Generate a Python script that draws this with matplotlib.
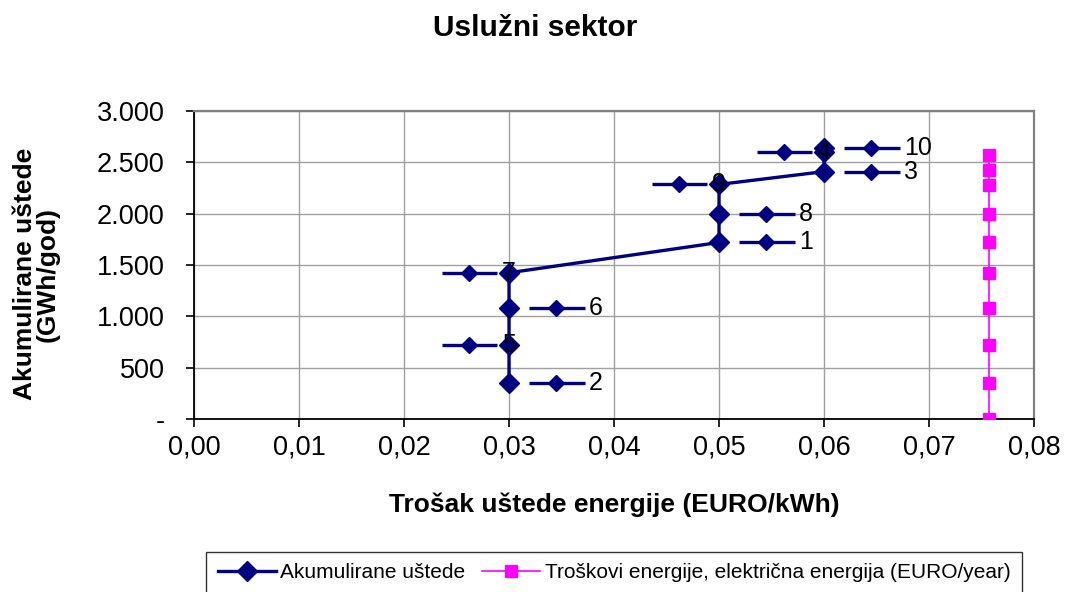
import numpy as np
import matplotlib
matplotlib.use("Agg")
import matplotlib.pyplot as plt
from matplotlib.ticker import FuncFormatter, MultipleLocator

plt.rcParams['font.family'] = ['Liberation Sans', 'DejaVu Sans']

# cumulative savings curve (sorted by cost of saved energy)
cost = [0.03, 0.03, 0.03, 0.03, 0.05, 0.05, 0.05, 0.06, 0.06, 0.06]
savings = [350, 725, 1080, 1425, 1720, 2000, 2285, 2410, 2600, 2640]
measure_ids = ['2', '5', '6', '7', '1', '8', '9', '3', '4', '10']
label_side = ['R', 'L', 'R', 'L', 'R', 'R', 'L', 'R', 'L', 'R']

# electricity price line
price_x = [0.0757] * 10
price_y = [0, 350, 720, 1080, 1425, 1720, 2000, 2280, 2425, 2570]

navy = '#000080'
magenta = '#FF00FF'

fig = plt.figure(figsize=(10.66, 5.92), dpi=100)
ax = fig.add_axes([0.182, 0.292, 0.788, 0.5205])

ax.plot(cost, savings, color=navy, lw=2.4, marker='D', ms=10.5,
        mec=navy, mfc=navy, zorder=4, label='Akumulirane uštede')
ax.plot(price_x, price_y, color=magenta, lw=1.2, marker='s', ms=9,
        mec=magenta, mfc=magenta, zorder=4,
        label='Troškovi energije, električna energija (EURO/year)')

# little pointer labels next to every measure
for x, y, name, side in zip(cost, savings, measure_ids, label_side):
    off = 0.0 if side == 'R' else -0.0083
    ax.plot([x + off + 0.0019, x + off + 0.0072], [y, y], color=navy,
            lw=2.4, zorder=5, solid_capstyle='butt')
    ax.plot([x + off + 0.0045], [y], color=navy, marker='D', ms=8, zorder=5)
    ax.text(x + off + 0.0076, y, name, fontsize=18, ha='left',
            va='center', color='black', zorder=6)

ax.set_xlim(0, 0.08)
ax.set_ylim(0, 3000)
ax.xaxis.set_major_locator(MultipleLocator(0.01))
ax.yaxis.set_major_locator(MultipleLocator(500))
ax.xaxis.set_major_formatter(FuncFormatter(lambda v, p: f'{v:.2f}'.replace('.', ',')))
ax.yaxis.set_major_formatter(FuncFormatter(
    lambda v, p: '-' if abs(v) < 1e-9 else f'{int(round(v)):,}'.replace(',', '.')))

ax.grid(True, color='#a0a0a0', lw=1.0)
ax.set_axisbelow(True)
for s in ['top', 'right']:
    ax.spines[s].set_color('#808080')
    ax.spines[s].set_linewidth(1.6)
for s in ['left', 'bottom']:
    ax.spines[s].set_color('black')
    ax.spines[s].set_linewidth(1.3)
ax.tick_params(axis='both', direction='out', length=6, width=1.2,
               labelsize=19.5, colors='black')
ax.tick_params(axis='y', pad=15)
ax.tick_params(axis='x', pad=5)

fig.text(0.502, 0.953, 'Uslužni sektor', fontsize=21.5, fontweight='bold',
         ha='center', va='center')
fig.text(0.576, 0.147, 'Trošak uštede energije (EURO/kWh)', fontsize=19,
         fontweight='bold', ha='center', va='center')
fig.text(0.034, 0.537, 'Akumulirane uštede\n(GWh/god)', fontsize=19,
         fontweight='bold', ha='center', va='center', rotation=90,
         multialignment='center', linespacing=0.95)

leg = fig.legend(loc='upper center', bbox_to_anchor=(0.576, 0.068), ncol=2,
                 fontsize=15, frameon=True, fancybox=False, edgecolor='black',
                 handlelength=2.8, handletextpad=0.2, columnspacing=0.8,
                 borderpad=0.55, borderaxespad=0)
leg.get_frame().set_linewidth(1.0)

fig.savefig('out.png', dpi=100)
